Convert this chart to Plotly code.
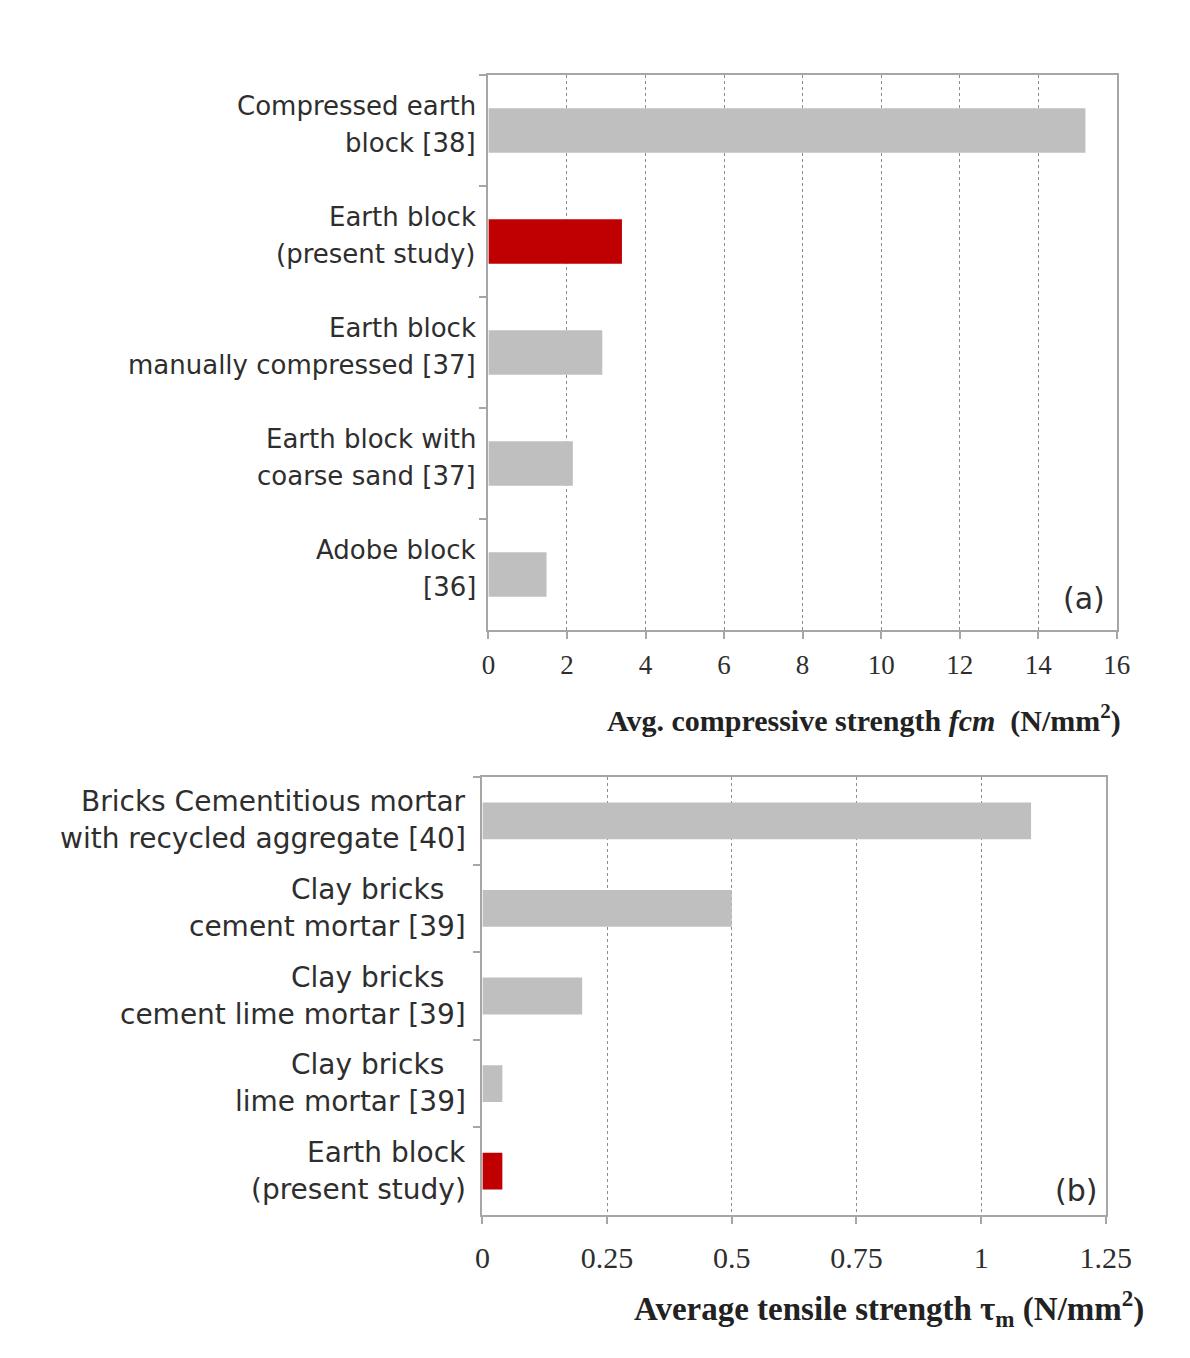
import plotly.graph_objects as go

W, H = 1190, 1358

# ---------------- data ----------------
comp_labels = [
    ["Compressed earth", "block [38]"],
    ["Earth block", "(present study)"],
    ["Earth block", "manually compressed [37]"],
    ["Earth block with", "coarse sand [37]"],
    ["Adobe block", "[36]"],
]
comp_values = [15.2, 3.4, 2.9, 2.15, 1.48]
comp_ticks = [0, 2, 4, 6, 8, 10, 12, 14, 16]

tens_labels = [
    ["Bricks Cementitious mortar", "with recycled aggregate [40]"],
    ["Clay bricks", "cement mortar [39]"],
    ["Clay bricks", "cement lime mortar [39]"],
    ["Clay bricks", "lime mortar [39]"],
    ["Earth block", "(present study)"],
]
tens_values = [1.10, 0.50, 0.20, 0.04, 0.04]
tens_ticks = [0, 0.25, 0.5, 0.75, 1, 1.25]
tens_ticktext = ["0", "0.25", "0.5", "0.75", "1", "1.25"]

GRAY = "#bfbfbf"
RED = "#c00000"
AXIS = "#a6a6a6"
GRID = "#8c8c8c"
TXT = "#2e2e2e"


def px_x(p):
    # horizontal compensation observed in the rendered page
    return ((p - 6.2) / 0.9731) / W


def px_y(p):
    return 1 - p / H


def cats(labels):
    return [" ".join(l) for l in labels]


def colors(labels):
    return [RED if "present study" in l[1] else GRAY for l in labels]


fig = go.Figure()
fig.add_trace(go.Bar(
    x=comp_values, y=cats(comp_labels), orientation="h",
    marker=dict(color=colors(comp_labels), line=dict(width=0)),
    xaxis="x", yaxis="y", width=0.4, showlegend=False,
))
fig.add_trace(go.Bar(
    x=tens_values, y=cats(tens_labels), orientation="h",
    marker=dict(color=colors(tens_labels), line=dict(width=0)),
    xaxis="x2", yaxis="y2", width=0.42, showlegend=False,
))

serif = "Liberation Serif, Times New Roman, serif"
sans = "DejaVu Sans, sans-serif"

xcommon = dict(
    showline=True, linecolor=AXIS, linewidth=2, mirror=True,
    ticks="outside", ticklen=7, tickcolor=AXIS, tickwidth=2,
    showgrid=True, gridcolor=GRID, gridwidth=1, griddash="3px,3px",
    zeroline=False,
)
ycommon = dict(
    showline=True, linecolor=AXIS, linewidth=2, mirror=True,
    ticks="outside", ticklen=7, tickcolor=AXIS, tickwidth=2,
    tickson="boundaries", showgrid=False, showticklabels=False,
    autorange="reversed", zeroline=False,
)

fig.update_layout(
    width=W, height=H, autosize=False,
    margin=dict(l=0, r=0, t=0, b=0),
    paper_bgcolor="white", plot_bgcolor="white",
    bargap=0.6,
    xaxis=dict(domain=[px_x(488), px_x(1117)], range=[0, 16],
               tickvals=comp_ticks, anchor="y", ticklabelstandoff=3,
               tickfont=dict(family=serif, size=27, color=TXT), **xcommon),
    yaxis=dict(domain=[px_y(630), px_y(75)], anchor="x",
               categoryorder="array", categoryarray=cats(comp_labels), **ycommon),
    xaxis2=dict(domain=[px_x(482), px_x(1106)], range=[0, 1.25],
                tickvals=tens_ticks, ticktext=tens_ticktext, anchor="y2",
                ticklabelstandoff=8,
                tickfont=dict(family=serif, size=30, color=TXT), **xcommon),
    yaxis2=dict(domain=[px_y(1215), px_y(777)], anchor="x2",
                categoryorder="array", categoryarray=cats(tens_labels), **ycommon),
)

ann = []


def add_labels(labels, yref, xright, shifts, size):
    for lab in labels:
        c = " ".join(lab)
        for i, line in enumerate(lab):
            ann.append(dict(
                x=px_x(xright), xref="paper", xanchor="right",
                y=c, yref=yref, yanchor="middle", yshift=shifts[i],
                text=line, showarrow=False,
                font=dict(family=sans, size=size, color=TXT),
            ))


add_labels(comp_labels, "y", 478, [25, -12], 26)
add_labels(tens_labels, "y2", 468, [19, -18], 28)

for a in ann:
    if a["text"] == "Clay bricks":
        a["x"] = a["x"] - 23 / W

ann.append(dict(x=px_x(1123), xref="paper", xanchor="right",
                y=px_y(718), yref="paper", yanchor="middle",
                text="<b>Avg. compressive strength <i>fcm</i>  (N/mm<sup>2</sup>)</b>",
                showarrow=False, font=dict(family=serif, size=30, color="#222")))
ann.append(dict(x=px_x(1146), xref="paper", xanchor="right",
                y=px_y(1308), yref="paper", yanchor="middle",
                text="<b>Average tensile strength τ<sub>m</sub> (N/mm<sup>2</sup>)</b>",
                showarrow=False, font=dict(family=serif, size=33, color="#222")))
ann.append(dict(x=px_x(1084), xref="paper", xanchor="center",
                y=px_y(598), yref="paper", yanchor="middle",
                text="(a)", showarrow=False, font=dict(family=sans, size=30, color=TXT)))
ann.append(dict(x=px_x(1076), xref="paper", xanchor="center",
                y=px_y(1190), yref="paper", yanchor="middle",
                text="(b)", showarrow=False, font=dict(family=sans, size=30, color=TXT)))

fig.update_layout(annotations=ann)

fig.write_html("out.html", config={"responsive": False, "displayModeBar": False})
